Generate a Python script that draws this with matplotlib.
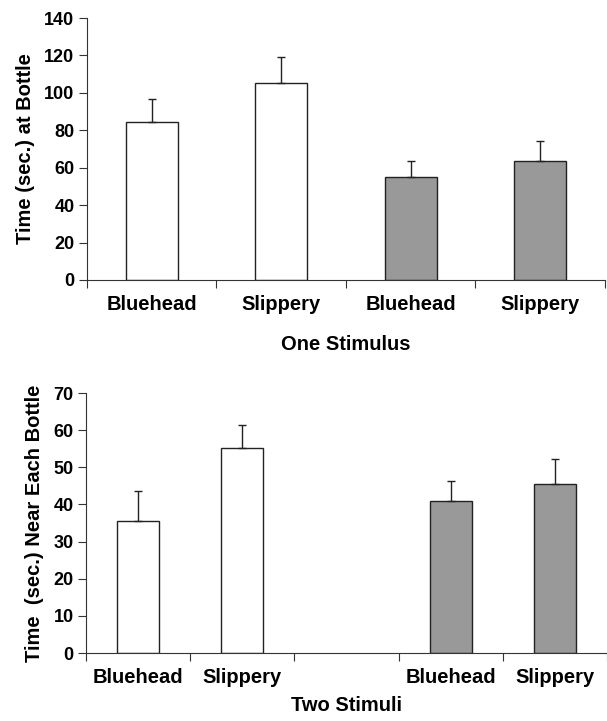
import numpy as np
import matplotlib
matplotlib.use("Agg")
import matplotlib.pyplot as plt

plt.rcParams["font.family"] = ["Liberation Sans", "DejaVu Sans"]
plt.rcParams["font.weight"] = "bold"

# top panel: one stimulus
one_labels = ["Bluehead", "Slippery", "Bluehead", "Slippery"]
one_means = [84.5, 105.5, 55.0, 63.5]
one_err = [12.0, 13.5, 8.5, 11.0]
one_colors = ["white", "white", "#999999", "#999999"]

# bottom panel: two stimuli (middle slot empty)
two_labels = ["Bluehead", "Slippery", "", "Bluehead", "Slippery"]
two_pos = [0, 1, 3, 4]
two_means = [35.5, 55.3, 41.0, 45.5]
two_err = [8.0, 6.2, 5.3, 6.7]
two_colors = ["white", "white", "#999999", "#999999"]

EDGE = "#222222"


def style_axis(ax, n, labels, ymax, ystep, ylabel, xlabel, xmax):
    ax.spines["top"].set_visible(False)
    ax.spines["right"].set_visible(False)
    for s in ("left", "bottom"):
        ax.spines[s].set_color("#333333")
    ax.set_xlim(-0.5, xmax)
    ax.set_ylim(0, ymax)
    ax.set_yticks(np.arange(0, ymax + 1, ystep))
    ax.set_xticks(np.arange(n + 1) - 0.5)
    ax.set_xticklabels([])
    ax.set_xticks(np.arange(n), minor=True)
    ax.set_xticklabels(labels, minor=True, fontsize=14.5, fontweight="bold")
    ax.tick_params(axis="x", which="major", length=6, direction="out",
                   color="#333333")
    ax.tick_params(axis="x", which="minor", length=0, pad=11)
    ax.tick_params(axis="y", length=6, labelsize=13, pad=3,
                   color="#333333")
    for t in ax.get_yticklabels():
        t.set_fontweight("bold")
    ax.set_ylabel(ylabel, fontsize=14.5, fontweight="bold", labelpad=7)
    ax.set_xlabel(xlabel, fontsize=14.5, fontweight="bold", labelpad=15)


fig = plt.figure(figsize=(6.07, 7.21), dpi=100)

ax1 = fig.add_axes([0.1433, 0.6117, 0.8534, 0.3633])
ax1.bar(np.arange(4), one_means, width=0.4, color=one_colors,
        edgecolor=EDGE, linewidth=1.0, zorder=2)
ax1.errorbar(np.arange(4), one_means, yerr=[np.zeros(4), one_err], fmt="none",
             ecolor=EDGE, elinewidth=1.0, capsize=3, capthick=1.0, zorder=3)
style_axis(ax1, 4, one_labels, 140, 20, "Time (sec.) at Bottle",
           "One Stimulus", 3.5)

ax2 = fig.add_axes([0.1417, 0.0943, 0.8583, 0.3606])
ax2.bar(two_pos, two_means, width=0.4, color=two_colors,
        edgecolor=EDGE, linewidth=1.0, zorder=2)
ax2.errorbar(two_pos, two_means, yerr=[np.zeros(4), two_err], fmt="none",
             ecolor=EDGE, elinewidth=1.0, capsize=3, capthick=1.0, zorder=3)
style_axis(ax2, 5, two_labels, 70, 10, "Time  (sec.) Near Each Bottle",
           "Two Stimuli", 4.44)
ax2.xaxis.labelpad = 6

fig.savefig("out.png", dpi=100)
